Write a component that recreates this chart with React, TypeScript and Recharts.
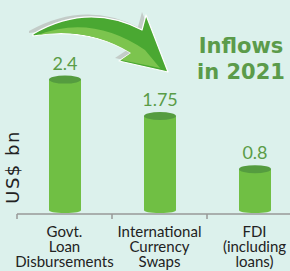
import React from "react"
import { BarChart, Bar, XAxis, YAxis, LabelList } from "recharts"

const categories = ["Govt.|Loan|Disbursements", "International|Currency|Swaps", "FDI|(including|loans)"]
const values = [2.4, 1.75, 0.8]
const valueLabels = ["2.4", "1.75", "0.8"]

const data = categories.map((name, i) => ({ name, value: values[i], label: valueLabels[i] }))

const BAND = 95

const Cylinder = (props: any) => {
  const { x, y, width, height } = props
  const rx = width / 2
  const bottom = y + height - 1
  return (
    <g>
      <path
        d={`M${x},${y} L${x},${bottom - 3} Q${x},${bottom} ${x + rx},${bottom} Q${x + width},${bottom} ${x + width},${bottom - 3} L${x + width},${y} Z`}
        fill="#70bf44"
      />
      <ellipse cx={x + rx} cy={y} rx={rx} ry={4} fill="#559c3f" />
    </g>
  )
}

const CategoryTick = (props: any) => {
  const { x, y, payload } = props
  const lines = String(payload.value).split("|")
  return (
    <g>
      <line x1={x - BAND / 2} x2={x - BAND / 2} y1={y - 8} y2={y - 3} stroke="#999" strokeWidth={1.5} />
      {lines.map((l, i) => (
        <text key={i} x={x} y={y + 15 + i * 15} textAnchor="middle" fontFamily="Lato" fontSize={15} fill="#222">
          {l}
        </text>
      ))}
    </g>
  )
}

export default function App() {
  return (
    <div style={{ position: "absolute", left: 0, top: 0, width: 290, height: 271, overflow: "hidden", background: "#dcf1ec" }}>
      <BarChart width={302} height={271} data={data} margin={{ top: 46, right: 0, bottom: 0, left: 17 }}>
        <XAxis dataKey="name" axisLine={{ stroke: "#999", strokeWidth: 1.5 }} tickLine={false} tick={<CategoryTick />} height={57} interval={0} />
        <YAxis hide domain={[0, 3]} />
        <Bar dataKey="value" barSize={32} shape={<Cylinder />} isAnimationActive={false}>
          <LabelList dataKey="label" position="top" offset={10} fill="#5a9c47" fontSize={18} fontFamily="Lato" />
        </Bar>
      </BarChart>
      <svg width={290} height={271} style={{ position: "absolute", left: 0, top: 0, pointerEvents: "none" }}>
        <path d="M29,31 Q84,0 138,27 L142,12 L164,69 L115,58 L127,50 Q86,25 29,33 Z" fill="#c3ccc8" />
        <path d="M33,34 Q88,2 142,30 L146,15 L168,72 L119,61 L131,53 Q88,27 33,36 Z" fill="#4aa832" stroke="#fff" strokeWidth={1.2} strokeLinejoin="round" />
        <path d="M38,35 Q92,14 145,50 L160,68 L121,60 L131,53 Q88,27 38,35 Z" fill="#7cc44e" />
        <text x={241} y={53} textAnchor="middle" fontFamily="DejaVu Sans" fontWeight="bold" fontSize={21} fill="#5b9b4a">Inflows</text>
        <text x={241} y={79} textAnchor="middle" fontFamily="DejaVu Sans" fontWeight="bold" fontSize={21} fill="#5b9b4a">in 2021</text>
        <text x={19} y={167} transform="rotate(-90 19 167)" textAnchor="middle" fontFamily="DejaVu Sans" fontSize={18} letterSpacing={1.5} fill="#222">US$ bn</text>
      </svg>
    </div>
  )
}
